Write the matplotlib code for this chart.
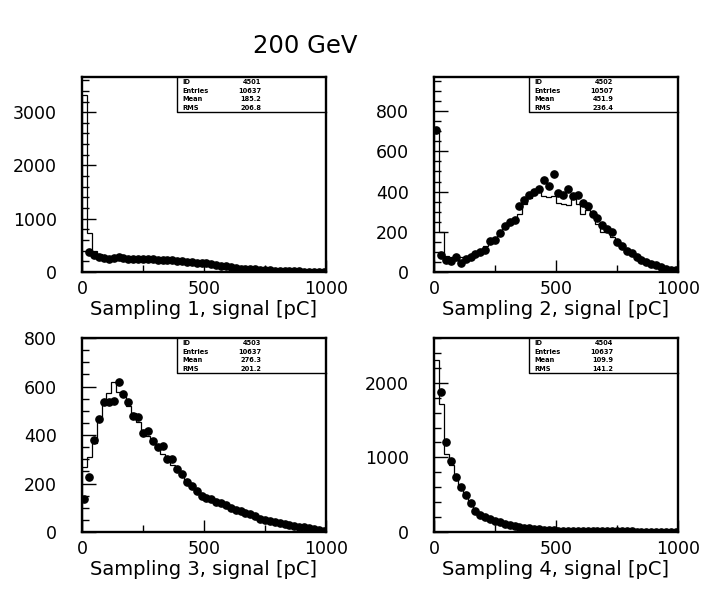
import matplotlib
matplotlib.use("Agg")
import matplotlib.pyplot as plt
from matplotlib.ticker import MultipleLocator, FixedLocator
import numpy as np

# binning: 50 bins of 20 pC from 0 to 1000
bin_edges = np.linspace(0, 1000, 51)
bin_centers = (bin_edges[:-1] + bin_edges[1:]) / 2

# ---- sampling 1 ----
mc1 = [3330, 730, 400, 330, 290, 270, 265, 260, 255, 250,
       245, 240, 238, 235, 230, 228, 225, 220, 212, 205,
       195, 185, 172, 160, 145, 130, 115, 100, 85, 70,
       58, 48, 40, 32, 26, 20, 16, 12, 10, 8,
       6, 5, 4, 3, 3, 2, 2, 2, 1, 1]
data1 = [np.nan, 380, 320, 280, 260, 250, 260, 290, 260, 240,
         250, 250, 245, 240, 235, 230, 225, 230, 220, 210,
         210, 195, 180, 175, 170, 160, 150, 135, 120, 105,
         88, 75, 65, 60, 55, 50, 45, 38, 30, 25,
         20, 18, 15, 12, 10, 9, 8, 6, 5, 4]

# ---- sampling 2 ----
mc2 = [700, 200, 80, 75, 70, 75, 70, 80, 95, 105,
       130, 145, 170, 190, 220, 240, 260, 290, 340, 370,
       385, 405, 380, 375, 380, 345, 340, 335, 370, 340,
       290, 310, 285, 240, 200, 210, 175, 140, 130, 110,
       100, 80, 65, 60, 50, 45, 35, 25, 15, 10]
data2 = [705, 85, 60, 55, 75, 45, 65, 75, 90, 100,
         110, 155, 160, 195, 230, 250, 260, 330, 360, 385,
         400, 415, 460, 430, 485, 395, 385, 415, 380, 385,
         345, 330, 290, 270, 235, 215, 200, 150, 130, 105,
         95, 75, 60, 50, 42, 35, 25, 15, 10, 8]

# ---- sampling 3 ----
mc3 = [270, 310, 365, 465, 540, 575, 620, 578, 560, 520,
       490, 455, 420, 395, 370, 345, 320, 295, 275, 250,
       230, 210, 195, 175, 160, 145, 135, 125, 115, 105,
       95, 88, 80, 72, 66, 60, 54, 48, 44, 40,
       36, 32, 28, 25, 22, 20, 17, 14, 12, 10]
data3 = [135, 225, 380, 465, 535, 537, 541, 618, 570, 535,
         478, 473, 410, 416, 375, 350, 354, 300, 299, 260,
         240, 205, 190, 170, 148, 140, 135, 125, 118, 110,
         100, 92, 85, 80, 76, 65, 55, 50, 45, 42,
         36, 32, 28, 25, 22, 20, 17, 14, 8, 5]

# ---- sampling 4 ----
mc4 = [2300, 1720, 1050, 900, 700, 580, 470, 360, 280, 230,
       195, 165, 145, 125, 105, 90, 78, 66, 56, 48,
       40, 35, 30, 26, 22, 20, 18, 16, 15, 14,
       13, 12, 11, 10, 10, 9, 9, 8, 8, 7,
       7, 6, 6, 6, 5, 5, 5, 4, 4, 4]
data4 = [np.nan, 1880, 1200, 950, 740, 600, 490, 390, 280, 230,
         200, 170, 150, 130, 110, 95, 80, 68, 58, 50,
         42, 36, 30, 26, 22, 20, 18, 16, 15, 14,
         13, 12, 11, 10, 10, 9, 9, 8, 8, 7,
         7, 6, 6, 6, 5, 5, 5, 4, 4, 4]

stats = [
    ["4501", "10637", "185.2", "206.8"],
    ["4502", "10507", "451.9", "236.4"],
    ["4503", "10637", "276.3", "201.2"],
    ["4504", "10637", "109.9", "141.2"],
]
stat_names = ["ID", "Entries", "Mean", "RMS"]
xlabels = ["Sampling 1, signal [pC]", "Sampling 2, signal [pC]",
           "Sampling 3, signal [pC]", "Sampling 4, signal [pC]"]
ylims = [3660, 970, 800, 2600]
ymajor = [1000, 200, 200, 1000]
yminor = [200, 50, 50, 200]

mcs = [mc1, mc2, mc3, mc4]
datas = [data1, data2, data3, data4]

fig = plt.figure(figsize=(7.05, 5.9), dpi=100)
positions = [
    [0.1163, 0.539, 0.3461, 0.3305],
    [0.6156, 0.539, 0.3461, 0.3305],
    [0.1163, 0.0983, 0.3461, 0.3288],
    [0.6156, 0.0983, 0.3461, 0.3288],
]

for i in range(4):
    ax = fig.add_axes(positions[i])
    ax.stairs(mcs[i], bin_edges, color="black", linewidth=0.9)
    ax.plot(bin_centers, datas[i], "o", color="black", markersize=5.2)
    ax.set_xlim(0, 1000)
    ax.set_ylim(0, ylims[i])
    for s in ax.spines.values():
        s.set_linewidth(1.7)
    ax.xaxis.set_major_locator(FixedLocator([0, 500, 1000]))
    ax.xaxis.set_minor_locator(FixedLocator([250, 750]))
    ax.yaxis.set_major_locator(MultipleLocator(ymajor[i]))
    ax.yaxis.set_minor_locator(MultipleLocator(yminor[i]))
    ax.tick_params(axis="y", which="major", direction="in", length=10, width=1,
                   pad=18, labelsize=12.5)
    ax.tick_params(axis="y", which="minor", direction="in", length=5, width=1)
    ax.tick_params(axis="x", which="major", direction="in", length=9, width=1,
                   pad=6, labelsize=12.5)
    ax.tick_params(axis="x", which="minor", direction="in", length=5, width=1)
    ax.set_xlabel(xlabels[i], fontsize=14, labelpad=1)

    # statistics box
    bx0, by0 = 0.39, 0.82
    ax.plot([bx0, bx0, 1], [1, by0, by0], color="black", linewidth=1.0,
            transform=ax.transAxes, clip_on=False)
    for r in range(4):
        yy = 1 - (r + 0.55) * (1 - by0) / 4
        ax.text(bx0 + 0.02, yy, stat_names[r], transform=ax.transAxes,
                fontsize=4.8, fontweight="bold", va="center", ha="left")
        ax.text(bx0 + 0.345, yy, stats[i][r], transform=ax.transAxes,
                fontsize=4.8, fontweight="bold", va="center", ha="right")

fig.text(0.433, 0.922, "200 GeV", fontsize=17.5, ha="center", va="center")

fig.savefig("out.png", dpi=100)
